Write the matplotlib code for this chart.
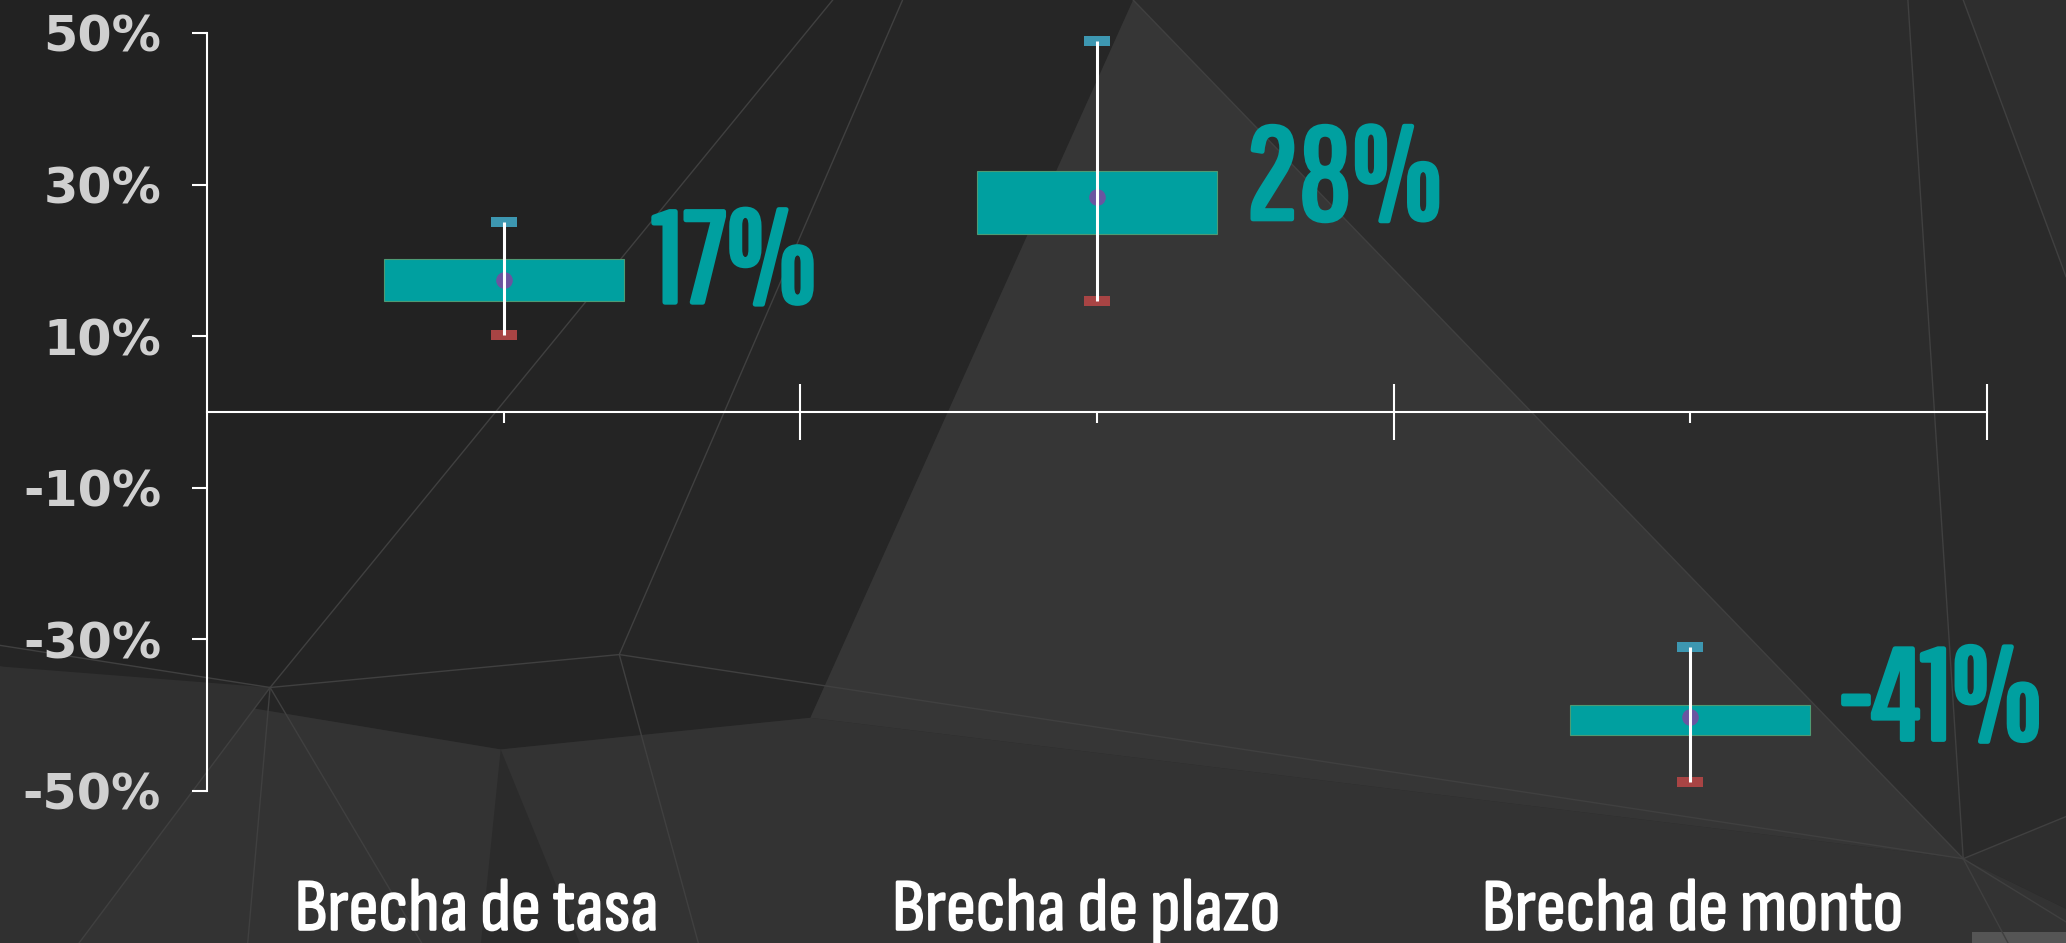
import matplotlib
matplotlib.use("Agg")
import numpy as np
import matplotlib.pyplot as plt
from matplotlib.patches import Polygon
from matplotlib.textpath import TextPath
from matplotlib.font_manager import FontProperties
from matplotlib import patheffects as pe

# data (percent)
categories = ["Brecha de tasa", "Brecha de plazo", "Brecha de monto"]
gap_labels = ["17%", "28%", "-41%"]
point_vals = [17.4, 28.4, -40.3]
box_high = [20.2, 31.8, -38.7]
box_low = [14.6, 23.5, -42.6]
whisker_high = [25.1, 49.0, -31.0]
whisker_low = [10.1, 14.6, -48.8]
ytick_vals = [-50, -30, -10, 10, 30, 50]
ytick_labels = ["-50%", "-30%", "-10%", "10%", "30%", "50%"]

DPI = 100
W, H = 2066, 943
TEAL = "#00a0a0"
NUM_FONT = "Pathway Gothic One"
CAT_FONT = "Sofia Sans Condensed"


def fit_size(text, family, weight, px):
    # font size (pt) whose ink height is px pixels
    fp = FontProperties(family=family, weight=weight)
    ext = TextPath((0, 0), text, size=100, prop=fp).get_extents()
    return px * 72 / ext.height


fig = plt.figure(figsize=(W / DPI, H / DPI), dpi=DPI, facecolor="#2a2a2a")

# low-poly background (decoration, in 1568x716 sketch units)
bg = fig.add_axes([0, 0, 1, 1], zorder=0)
bg.set_xlim(0, 1568)
bg.set_ylim(716, 0)
bg.axis("off")
shapes = [
    ([(0, 0), (632, 0), (205, 522), (0, 490)], "#222222"),
    ([(632, 0), (685, 0), (470, 497), (205, 522)], "#242424"),
    ([(685, 0), (860, 0), (615, 545), (470, 497)], "#262626"),
    ([(860, 0), (1448, 0), (1490, 652)], "#2c2c2c"),
    ([(1448, 0), (1490, 0), (1568, 210), (1568, 620), (1490, 652)], "#2a2a2a"),
    ([(1490, 0), (1568, 0), (1568, 210)], "#2e2e2e"),
    ([(0, 490), (205, 522), (470, 497), (625, 521), (615, 545), (380, 569), (0, 506)], "#252525"),
    ([(0, 506), (380, 569), (615, 545), (1490, 652), (1568, 690), (1568, 716), (0, 716)], "#333333"),
    ([(205, 522), (60, 716), (0, 716), (0, 506)], "#303030"),
    ([(380, 569), (365, 716), (440, 716)], "#2b2b2b"),
    ([(860, 0), (615, 545), (1490, 652)], "#363636"),
    ([(1490, 652), (1568, 620), (1568, 690)], "#2e2e2e"),
    ([(1497, 708), (1568, 708), (1568, 716), (1497, 716)], "#555555"),
]
for verts, col in shapes:
    bg.add_patch(Polygon(verts, closed=True, facecolor=col, edgecolor="none"))
edges = [
    [(0, 490), (205, 522), (470, 497), (1490, 652)],
    [(205, 522), (632, 0)],
    [(470, 497), (685, 0)],
    [(860, 0), (1490, 652)],
    [(1448, 0), (1490, 652)],
    [(1490, 0), (1568, 210)],
    [(205, 522), (60, 716)],
    [(205, 522), (188, 716)],
    [(205, 522), (320, 716)],
    [(470, 497), (530, 716)],
    [(1490, 652), (1568, 620)],
    [(1490, 652), (1524, 716)],
    [(1490, 652), (1568, 700)],
]
for e in edges:
    xs, ys = zip(*e)
    bg.plot(xs, ys, color="#404040", lw=1)

# main chart
y_top, y_bot = 33, 790.75
ax = fig.add_axes([207 / W, (H - y_bot) / H, 1780 / W, (y_bot - y_top) / H], zorder=2)
ax.patch.set_alpha(0)
ax.set_xlim(0, 3)
ax.set_ylim(-50, 50)

x = np.arange(len(categories)) + 0.5
box_w = 0.405
cap_w, cap_h = 0.044, 1.3

ax.bar(x, np.array(box_high) - np.array(box_low), bottom=box_low, width=box_w,
       color=TEAL, edgecolor="#4e9a74", linewidth=0.8, zorder=3)
ax.plot(x, point_vals, "o", ms=12, mew=0, color="#6a55a0", zorder=4)
ax.bar(x, cap_h, bottom=np.array(whisker_high) - cap_h / 2, width=cap_w,
       color="#3d97b1", zorder=5, clip_on=False)
ax.bar(x, cap_h, bottom=np.array(whisker_low) - cap_h / 2, width=cap_w,
       color="#a84444", zorder=5, clip_on=False)
ax.vlines(x, whisker_low, whisker_high, color="white", lw=2.2, zorder=6)

num_stroke = 3.5
num_size = fit_size("17%", NUM_FONT, "normal", 100 - num_stroke / 0.72)
for xi, yi, lab in zip(x, point_vals, gap_labels):
    ax.annotate(lab, xy=(xi + box_w / 2, yi), xytext=(21, -16), textcoords="offset points",
                ha="left", va="baseline", color=TEAL, fontsize=num_size,
                family=[NUM_FONT, "DejaVu Sans"], annotation_clip=False,
                path_effects=[pe.withStroke(linewidth=num_stroke, foreground=TEAL)])

# axes styling
for s in ["top", "right"]:
    ax.spines[s].set_visible(False)
ax.spines["left"].set_bounds(-50, 50)
ax.spines["bottom"].set_position(("data", 0))
for s in ["left", "bottom"]:
    ax.spines[s].set_color("white")
    ax.spines[s].set_linewidth(1.5)

ax.set_yticks(ytick_vals, ytick_labels)
ax.tick_params(axis="y", direction="out", length=11, width=1.5, color="white",
               labelcolor="#d0d0d0", labelsize=35.5, pad=22)
for t in ax.get_yticklabels():
    t.set_fontweight("bold")
    t.set_family("DejaVu Sans")

ax.set_xticks([1, 2, 3])
ax.set_xticks(x, minor=True)
ax.tick_params(axis="x", which="major", direction="inout", length=40, width=1.5,
               color="white", labelbottom=False)
ax.tick_params(axis="x", which="minor", direction="out", length=8, width=1.5,
               color="white", labelbottom=False)

cat_stroke = 1.3
cat_size = fit_size("Brecha", CAT_FONT, "normal", 53 - cat_stroke / 0.72)
cat_shift = [-27, -11, 2]  # px, labels are not exactly centred in the original
for xi, cat, dx in zip(x, categories, cat_shift):
    ax.annotate(cat, xy=(xi, -0.1836), xycoords=ax.get_xaxis_transform(),
                xytext=(dx * 0.72, 0), textcoords="offset points",
                ha="center", va="baseline", color="white", fontsize=cat_size,
                family=[CAT_FONT, "DejaVu Sans"], annotation_clip=False,
                path_effects=[pe.withStroke(linewidth=cat_stroke, foreground="white")])

fig.savefig("out.png", dpi=DPI, facecolor=fig.get_facecolor())
